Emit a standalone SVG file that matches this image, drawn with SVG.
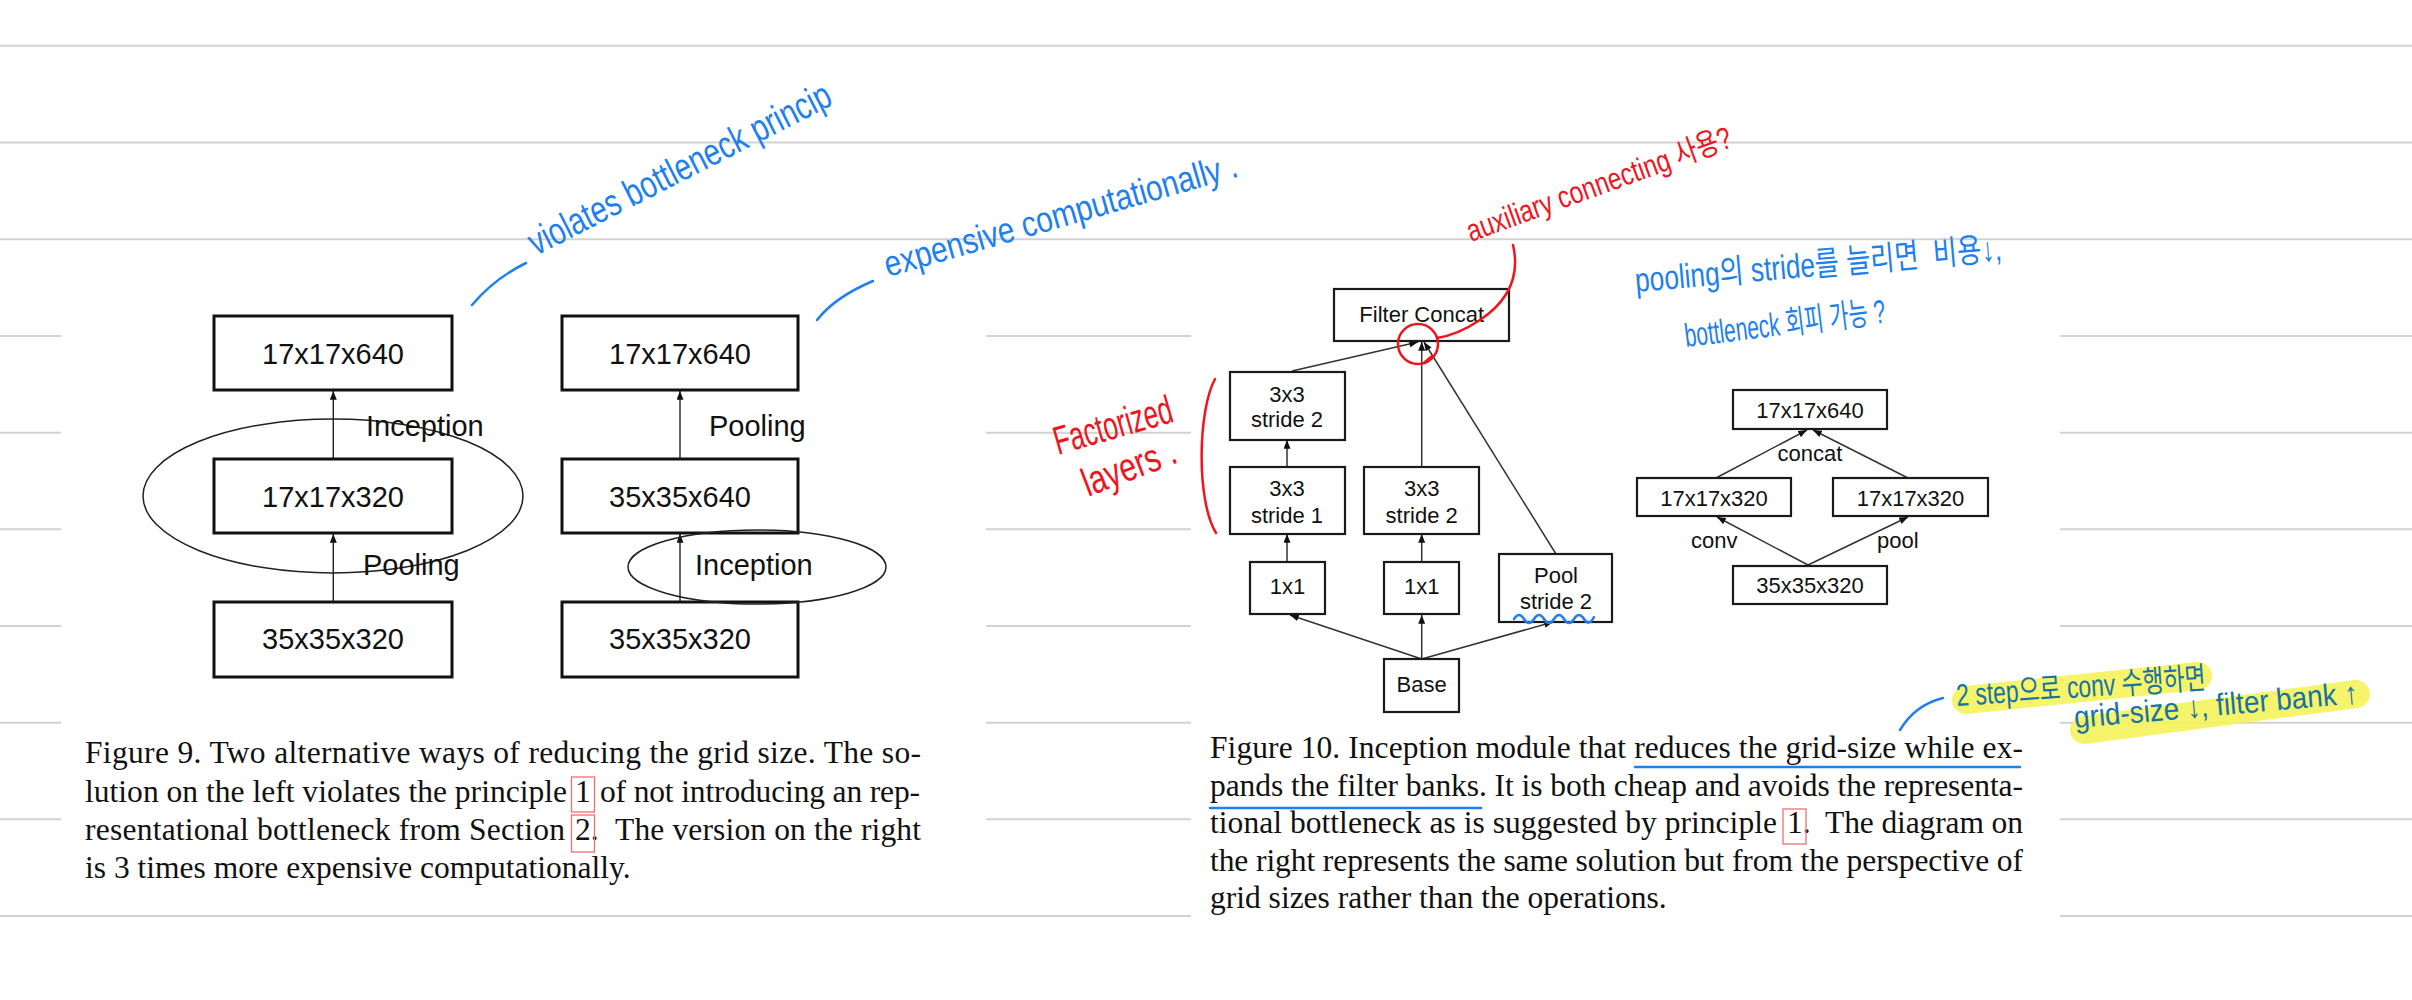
<svg xmlns="http://www.w3.org/2000/svg" width="2412" height="1000" viewBox="0 0 2412 1000">
<style>
.rule{stroke:#d2d2d2;stroke-width:2;fill:none}
.box9{fill:#fff;stroke:#111;stroke-width:3}
.box10{fill:#fff;stroke:#1a1a1a;stroke-width:2.2}
.lbl{font-family:"Liberation Sans",Arial,sans-serif;fill:#111}
.t29{font-size:29px}
.t22{font-size:22px}
.conn{stroke:#222;stroke-width:1.4;fill:none}
.conn10{stroke:#333;stroke-width:1.5;fill:none}
.ell{fill:none;stroke:#222;stroke-width:1.5}
.cap{font-family:"Liberation Serif","Times New Roman",serif;font-size:31.5px;fill:#111}
.refbox{fill:none;stroke:#f07070;stroke-width:1.3}
.hand{font-family:"Liberation Sans Narrow","Liberation Sans","Noto Sans CJK KR",sans-serif}
.blue{fill:#1d7ff0}
.red{fill:#f0141e}
.bstroke{fill:none;stroke:#1d7ff0;stroke-width:2.5;stroke-linecap:round}
.rstroke{fill:none;stroke:#f0141e;stroke-width:2.5;stroke-linecap:round}
.hl{fill:none;stroke:#f5f35a;stroke-width:28;stroke-linecap:round;opacity:0.9}
</style>
<defs>
<marker id="ah" viewBox="0 0 10 8" refX="10" refY="4" markerWidth="9" markerHeight="7" orient="auto" markerUnits="userSpaceOnUse"><path d="M0,0 L10,4 L0,8 z" fill="#111"/></marker>
</defs>
<rect x="0" y="0" width="2412" height="1000" fill="#fff"/>
<g id="rules">
<line class="rule" x1="0" y1="45.7" x2="2412" y2="45.7"/>
<line class="rule" x1="0" y1="142.5" x2="2412" y2="142.5"/>
<line class="rule" x1="0" y1="239.3" x2="2412" y2="239.3"/>
<path class="rule" d="M0,336H61M986,336H1191M2060,336H2412"/>
<path class="rule" d="M0,432.7H61M986,432.7H1191M2060,432.7H2412"/>
<path class="rule" d="M0,529.3H61M986,529.3H1191M2060,529.3H2412"/>
<path class="rule" d="M0,626H61M986,626H1191M2060,626H2412"/>
<path class="rule" d="M0,722.7H61M986,722.7H1191M2060,722.7H2412"/>
<path class="rule" d="M0,819.3H61M986,819.3H1191M2060,819.3H2412"/>
<path class="rule" d="M0,916H1191M2060,916H2412"/>
</g>
<g id="connectors">
<line class="conn" x1="333.3" y1="459" x2="333.3" y2="391" marker-end="url(#ah)"/>
<line class="conn" x1="333.3" y1="602" x2="333.3" y2="534" marker-end="url(#ah)"/>
<line class="conn" x1="680" y1="459" x2="680" y2="391" marker-end="url(#ah)"/>
<line class="conn" x1="680" y1="602" x2="680" y2="534" marker-end="url(#ah)"/>
<line class="conn10" x1="1292" y1="371" x2="1418" y2="342" marker-end="url(#ah)"/>
<line class="conn10" x1="1421.7" y1="467" x2="1421.7" y2="342" marker-end="url(#ah)"/>
<line class="conn10" x1="1556" y1="554" x2="1424" y2="342" marker-end="url(#ah)"/>
<line class="conn10" x1="1287" y1="467" x2="1287" y2="440" marker-end="url(#ah)"/>
<line class="conn10" x1="1287" y1="562" x2="1287" y2="534" marker-end="url(#ah)"/>
<line class="conn10" x1="1421.7" y1="562" x2="1421.7" y2="534" marker-end="url(#ah)"/>
<line class="conn10" x1="1421.7" y1="659" x2="1290" y2="615" marker-end="url(#ah)"/>
<line class="conn10" x1="1421.7" y1="659" x2="1421.7" y2="615" marker-end="url(#ah)"/>
<line class="conn10" x1="1421.7" y1="659" x2="1553" y2="622" marker-end="url(#ah)"/>
<line class="conn10" x1="1716" y1="478" x2="1807" y2="430" marker-end="url(#ah)"/>
<line class="conn10" x1="1908" y1="478" x2="1813" y2="430" marker-end="url(#ah)"/>
<line class="conn10" x1="1808" y1="565" x2="1717" y2="517" marker-end="url(#ah)"/>
<line class="conn10" x1="1808" y1="565" x2="1908" y2="517" marker-end="url(#ah)"/>
</g>
<g id="fig9-left-top"><rect class="box9" x="214" y="316" width="238" height="74"/><text class="lbl t29" x="333" y="364" text-anchor="middle">17x17x640</text></g>
<g id="fig9-left-mid"><rect class="box9" x="214" y="459" width="238" height="74"/><text class="lbl t29" x="333" y="507" text-anchor="middle">17x17x320</text></g>
<g id="fig9-left-bot"><rect class="box9" x="214" y="602" width="238" height="75"/><text class="lbl t29" x="333" y="649" text-anchor="middle">35x35x320</text></g>
<g id="fig9-left-ellipse"><ellipse class="ell" cx="333" cy="496" rx="190" ry="77"/></g>
<g id="fig9-left-labels"><text class="lbl t29" x="366" y="436">Inception</text><text class="lbl t29" x="363" y="575">Pooling</text></g>
<g id="fig9-right-top"><rect class="box9" x="562" y="316" width="236" height="74"/><text class="lbl t29" x="680" y="364" text-anchor="middle">17x17x640</text></g>
<g id="fig9-right-mid"><rect class="box9" x="562" y="459" width="236" height="74"/><text class="lbl t29" x="680" y="507" text-anchor="middle">35x35x640</text></g>
<g id="fig9-right-bot"><rect class="box9" x="562" y="602" width="236" height="75"/><text class="lbl t29" x="680" y="649" text-anchor="middle">35x35x320</text></g>
<g id="fig9-right-ellipse"><ellipse class="ell" cx="757" cy="567" rx="129" ry="37"/></g>
<g id="fig9-right-labels"><text class="lbl t29" x="709" y="436">Pooling</text><text class="lbl t29" x="695" y="575">Inception</text></g>
<g id="fig10-concat"><rect class="box10" x="1334" y="289" width="175" height="52"/><text class="lbl t22" x="1421.7" y="322" text-anchor="middle">Filter Concat</text></g>
<g id="fig10-3x3s2a"><rect class="box10" x="1230" y="372" width="115" height="68"/><text class="lbl t22" x="1287" y="402" text-anchor="middle">3x3</text><text class="lbl t22" x="1287" y="427" text-anchor="middle">stride 2</text></g>
<g id="fig10-3x3s1"><rect class="box10" x="1230" y="467" width="115" height="67"/><text class="lbl t22" x="1287" y="496" text-anchor="middle">3x3</text><text class="lbl t22" x="1287" y="523" text-anchor="middle">stride 1</text></g>
<g id="fig10-3x3s2b"><rect class="box10" x="1364" y="467" width="115" height="67"/><text class="lbl t22" x="1421.7" y="496" text-anchor="middle">3x3</text><text class="lbl t22" x="1421.7" y="523" text-anchor="middle">stride 2</text></g>
<g id="fig10-1x1a"><rect class="box10" x="1250" y="562" width="75" height="52"/><text class="lbl t22" x="1287.5" y="594" text-anchor="middle">1x1</text></g>
<g id="fig10-1x1b"><rect class="box10" x="1384" y="562" width="75" height="52"/><text class="lbl t22" x="1421.7" y="594" text-anchor="middle">1x1</text></g>
<g id="fig10-pool"><rect class="box10" x="1499" y="554" width="113" height="68"/><text class="lbl t22" x="1556" y="583" text-anchor="middle">Pool</text><text class="lbl t22" x="1556" y="609" text-anchor="middle">stride 2</text></g>
<g id="fig10-base"><rect class="box10" x="1384" y="659" width="75" height="53"/><text class="lbl t22" x="1421.7" y="692" text-anchor="middle">Base</text></g>
<g id="fig10r-640"><rect class="box10" x="1733" y="390" width="154" height="39"/><text class="lbl t22" x="1810" y="418" text-anchor="middle">17x17x640</text></g>
<g id="fig10r-320a"><rect class="box10" x="1637" y="478" width="154" height="38"/><text class="lbl t22" x="1714" y="506" text-anchor="middle">17x17x320</text></g>
<g id="fig10r-320b"><rect class="box10" x="1833" y="478" width="155" height="38"/><text class="lbl t22" x="1910.5" y="506" text-anchor="middle">17x17x320</text></g>
<g id="fig10r-base"><rect class="box10" x="1733" y="566" width="154" height="38"/><text class="lbl t22" x="1810" y="593" text-anchor="middle">35x35x320</text></g>
<g id="fig10r-labels"><text class="lbl t22" x="1810" y="461" text-anchor="middle">concat</text><text class="lbl t22" x="1691" y="548">conv</text><text class="lbl t22" x="1877" y="548">pool</text></g>
<g id="caption9" class="cap">
<text x="85" y="763" textLength="836" lengthAdjust="spacing">Figure 9. Two alternative ways of reducing the grid size. The so-</text>
<text x="85" y="802" textLength="482" lengthAdjust="spacing">lution on the left violates the principle</text>
<text x="575" y="802">1</text>
<text x="600" y="802" textLength="320" lengthAdjust="spacing">of not introducing an rep-</text>
<text x="85" y="840" textLength="480" lengthAdjust="spacing">resentational bottleneck from Section</text>
<text x="575" y="840">2.</text>
<text x="615" y="840" textLength="306" lengthAdjust="spacing">The version on the right</text>
<text x="85" y="878">is 3 times more expensive computationally.</text>
</g>
<rect class="refbox" x="571.5" y="777" width="23" height="35"/>
<rect class="refbox" x="571.5" y="815" width="23" height="37"/>
<g id="caption10" class="cap">
<text x="1210" y="758" textLength="813" lengthAdjust="spacing">Figure 10. Inception module that reduces the grid-size while ex-</text>
<text x="1210" y="796" textLength="813" lengthAdjust="spacing">pands the filter banks. It is both cheap and avoids the representa-</text>
<text x="1210" y="833" textLength="567" lengthAdjust="spacing">tional bottleneck as is suggested by principle</text>
<text x="1787" y="833">1.</text>
<text x="1825" y="833" textLength="198" lengthAdjust="spacing">The diagram on</text>
<text x="1210" y="871" textLength="813" lengthAdjust="spacing">the right represents the same solution but from the perspective of</text>
<text x="1210" y="908">grid sizes rather than the operations.</text>
</g>
<rect class="refbox" x="1783" y="809" width="23" height="35"/>
<g id="annotations">
<path class="bstroke" d="M1635,767H2020M1210,808H1481"/>
<path class="bstroke" d="M472,305 Q495,278 526,263"/>
<text class="hand blue" font-size="38" transform="translate(536,256) rotate(-27)" textLength="335" lengthAdjust="spacingAndGlyphs">violates bottleneck princip</text>
<path class="bstroke" d="M817,320 Q835,297 873,281"/>
<text class="hand blue" font-size="36" transform="translate(888,277) rotate(-16)" textLength="366" lengthAdjust="spacingAndGlyphs">expensive computationally .</text>
<path class="rstroke" d="M1215,379 C1198,410 1196,500 1216,533"/>
<text class="hand red" font-size="40" transform="translate(1058,455) rotate(-16)" textLength="122" lengthAdjust="spacingAndGlyphs">Factorized</text>
<text class="hand red" font-size="40" transform="translate(1088,497) rotate(-21)" textLength="98" lengthAdjust="spacingAndGlyphs">layers .</text>
<ellipse class="rstroke" cx="1418" cy="344" rx="20" ry="20"/>
<path class="rstroke" d="M1513,245 C1520,275 1510,300 1480,320 C1465,330 1450,336 1437,338 M1424,363 L1432,356"/>
<text class="hand red" font-size="31" transform="translate(1471,242) rotate(-20)" textLength="280" lengthAdjust="spacingAndGlyphs">auxiliary connecting 사용?</text>
<text class="hand blue" font-size="34" transform="translate(1636,292) rotate(-5)" textLength="368" lengthAdjust="spacingAndGlyphs">pooling의 stride를 늘리면&#160;&#160;비용↓,</text>
<text class="hand blue" font-size="33" transform="translate(1686,347) rotate(-7)" textLength="202" lengthAdjust="spacingAndGlyphs">bottleneck 회피 가능 ?</text>
<path class="bstroke" d="M1514,619 q5,-8 10,0 t10,0 t10,0 t10,0 t10,0 t10,0 t10,0 t10,-2" stroke-width="2"/>
<path class="bstroke" d="M1900,730 Q1915,705 1943,698"/>
<path class="hl" d="M1966,700 L2198,676"/>
<path class="hl" d="M2084,730 L2356,694"/>
<text class="hand" fill="#1673a3" font-size="31" transform="translate(1957,706) rotate(-4)" textLength="250" lengthAdjust="spacingAndGlyphs">2 step으로 conv 수행하면</text>
<text class="hand" fill="#1673a3" font-size="31" transform="translate(2075,728) rotate(-5)" textLength="285" lengthAdjust="spacingAndGlyphs">grid-size ↓, filter bank ↑</text>
</g>
</svg>
